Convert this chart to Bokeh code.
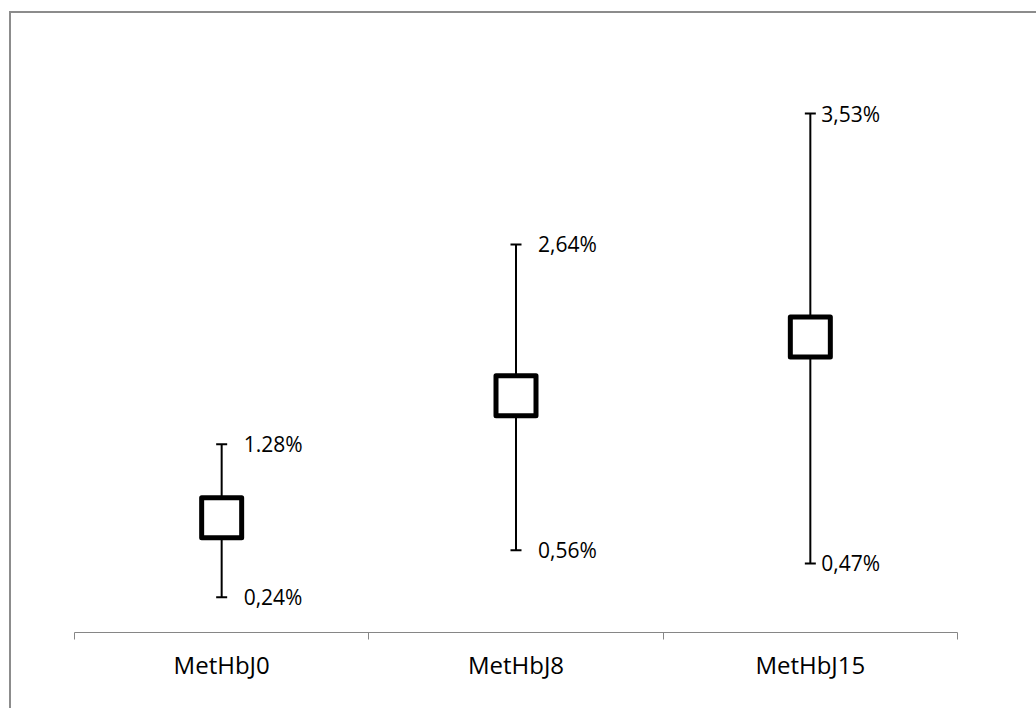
from bokeh.plotting import figure
from bokeh.models import ColumnDataSource, FixedTicker, Range1d
from bokeh.core.properties import value
from bokeh.embed import file_html
from bokeh.resources import INLINE

# Methaemoglobin (% of total Hb) at day 0, 8 and 15: mean with min / max
categories = ["MetHbJ0", "MetHbJ8", "MetHbJ15"]
mean_values = [0.78, 1.61, 2.01]
upper_values = [1.28, 2.64, 3.53]
lower_values = [0.24, 0.56, 0.47]
upper_labels = ["1.28%", "2,64%", "3,53%"]
lower_labels = ["0,24%", "0,56%", "0,47%"]

# horizontal offset (px) of the value labels from the error bar
label_dx = [22, 22, 11]

positions = [1, 2, 3]

src = ColumnDataSource(dict(
    x=positions,
    mean=mean_values,
    upper=upper_values,
    lower=lower_values,
    upper_text=upper_labels,
    lower_text=lower_labels,
    dx=label_dx,
))

p = figure(
    width=1040, height=710,
    x_range=Range1d(0.5, 3.5), y_range=Range1d(0, 4),
    output_backend="svg", toolbar_location=None,
    y_axis_location=None,
    min_border_left=63, min_border_right=94,
    min_border_top=31, min_border_bottom=91,
)
# chart area frame: a grey rule along the top and left edges
p.styles = {
    "margin-left": "9px",
    "margin-top": "11px",
    "border-left": "2px solid #8c8c8c",
    "border-top": "2px solid #8c8c8c",
}
p.xgrid.visible = False
p.ygrid.visible = False
p.outline_line_color = None
p.background_fill_color = "white"
p.border_fill_color = "white"

# range bars
p.segment(x0="x", y0="lower", x1="x", y1="upper", source=src,
          line_color="black", line_width=2)
p.scatter(x="x", y="upper", source=src, marker="dash", size=11,
          line_color="black", line_width=2)
p.scatter(x="x", y="lower", source=src, marker="dash", size=11,
          line_color="black", line_width=2)

# mean markers
p.scatter(x="x", y="mean", source=src, marker="square", size=40,
          fill_color="white", line_color="black", line_width=5,
          line_join="round")

# value labels
for col, field in (("upper", "upper_text"), ("lower", "lower_text")):
    p.text(x="x", y=col, text=field, source=src, x_offset="dx",
           text_font=value("Open Sans"), text_font_size="21px",
           text_color="black", text_baseline="middle", text_align="left")

# category axis: labels at centres, tick marks at the boundaries
ax = p.xaxis[0]
ax.ticker = FixedTicker(ticks=positions, minor_ticks=[0.5, 1.5, 2.5, 3.5])
ax.major_label_overrides = {pos: name for pos, name in zip(positions, categories)}
ax.major_tick_in = 0
ax.major_tick_out = 0
ax.minor_tick_in = 0
ax.minor_tick_out = 7
ax.minor_tick_line_color = "#868686"
ax.minor_tick_line_width = 1
ax.axis_line_color = "#868686"
ax.axis_line_width = 1
ax.major_label_standoff = 8
ax.major_label_text_font = "Open Sans"
ax.major_label_text_font_size = "24px"
ax.major_label_text_color = "black"

open("out.html", "w").write(file_html(p, INLINE))
